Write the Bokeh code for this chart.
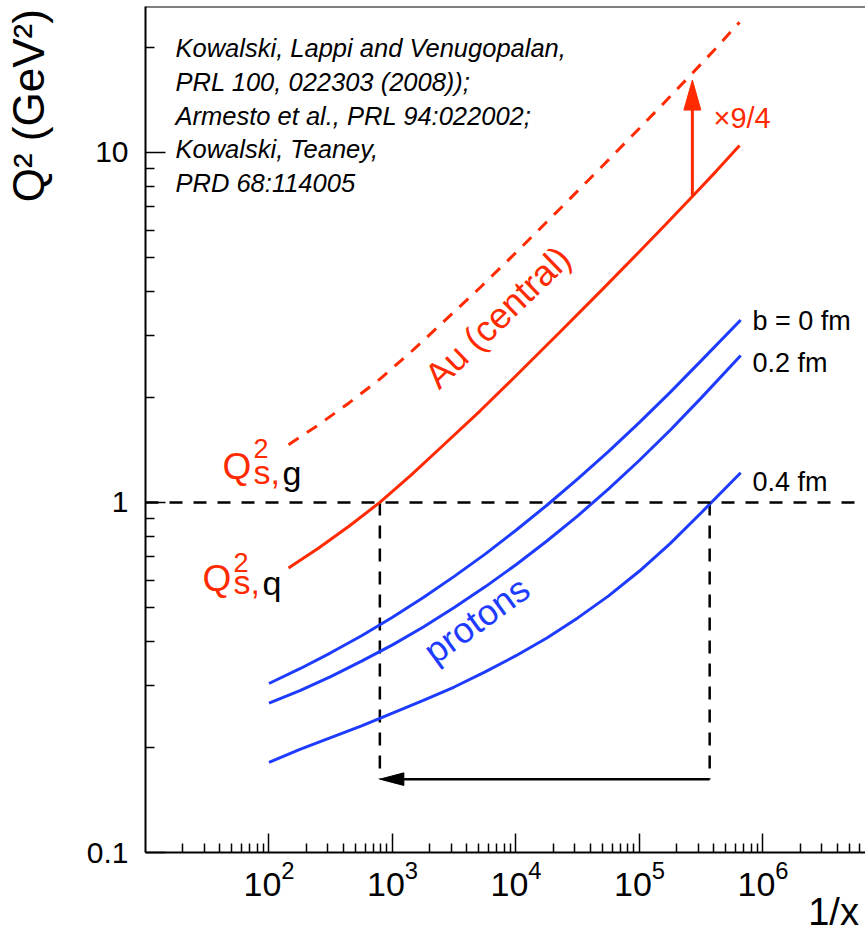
import math
from bokeh.plotting import figure
from bokeh.models import Range1d, FixedTicker, LogTickFormatter, Label, Span, LogAxis
from bokeh.embed import file_html
from bokeh.resources import INLINE

# ---------------- data ----------------
# Au (central), quark saturation scale Q_s,q^2 vs 1/x
au_x = [144, 251, 447, 794, 1413, 2512, 5129, 1.0e4, 2.24e4, 5.01e4, 1.0e5,
        1.585e5, 2.69e5, 4.17e5, 6.46e5]
au_q = [0.650, 0.740, 0.857, 1.002, 1.197, 1.445, 1.828, 2.301, 3.055, 4.064,
        5.212, 6.166, 7.499, 8.831, 10.47]
# Au (central), gluon saturation scale Q_s,g^2 (x 9/4), dashed
aug_q = [1.463, 1.665, 1.928, 2.255, 2.693, 3.251, 4.113, 5.177, 6.874, 9.144,
         11.73, 13.87, 16.87, 19.87, 23.56]
# protons (common 1/x grid)
p_x = [100, 178, 316, 562, 1000, 1778, 3162, 5623, 1.0e4, 1.778e4, 3.162e4,
       5.623e4, 1.0e5, 1.778e5, 3.162e5, 6.6e5]
p0_q = [0.304, 0.335, 0.372, 0.416, 0.470, 0.535, 0.615, 0.712, 0.833, 0.982,
        1.168, 1.400, 1.694, 2.067, 2.543, 3.32]      # b = 0 fm
p2_q = [0.267, 0.290, 0.318, 0.352, 0.392, 0.441, 0.501, 0.574, 0.664, 0.776,
        0.916, 1.093, 1.320, 1.611, 1.990, 2.63]      # b = 0.2 fm
p4_q = [0.181, 0.197, 0.213, 0.230, 0.250, 0.272, 0.297, 0.328, 0.365, 0.410,
        0.468, 0.541, 0.637, 0.764, 0.935, 1.216]     # b = 0.4 fm

# guide lines / arrows
ref_q2 = 1.0            # horizontal dashed line
cross_x = [790, 3.7e5]  # where Au and b=0.4 fm proton curves reach Q^2 = 1
arrow_q2 = 0.162        # level of the horizontal arrow
ratio_x = 2.68e5        # position of the x9/4 arrow
ratio_from = 7.52
ratio_to = 16.1

# axes
x_major = [1e2, 1e3, 1e4, 1e5, 1e6]
x_minor = [m * 10 ** e for e in range(1, 7) for m in range(2, 10)]
y_major = [0.1, 1, 10]
y_labels = ["0.1", "1", "10"]
y_minor = [m * 10.0 ** e for e in (-1, 0, 1) for m in range(2, 10)]
x_title, x_title_at = "1/x", 3.726e6
y_title, y_title_at = "Q\u00b2 (GeV\u00b2)", 13.6

X0, X1 = 10.0, 10 ** 6.83
Y0, Y1 = 0.1, 10 ** 1.417

RED = "#ff2a00"
BLUE = "#1e3cff"
FONT = "Liberation Sans"

W, H = 865, 946
BL, BR, BT, BB = 145, 0, 6, 94
FW, FH = W - BL - BR, H - BT - BB
dxd = (math.log10(X1) - math.log10(X0)) / FW   # decades per pixel
dyd = (math.log10(Y1) - math.log10(Y0)) / FH

p = figure(width=W, height=H, x_axis_type="log", y_axis_type="log",
           x_range=Range1d(X0, X1), y_range=Range1d(Y0, Y1),
           output_backend="svg", toolbar_location=None,
           min_border_left=BL, min_border_right=BR,
           min_border_top=BT, min_border_bottom=BB)
p.outline_line_color = None
p.xgrid.visible = False
p.ygrid.visible = False
p.background_fill_color = "white"
p.border_fill_color = "white"

for ax in (p.xaxis, p.yaxis):
    ax.axis_line_width = 2
    ax.axis_line_color = "black"
    ax.major_tick_out = 0
    ax.minor_tick_out = 0
    ax.major_tick_line_width = 1.5
    ax.minor_tick_line_width = 1.5
    ax.major_label_text_font = FONT
    ax.major_label_text_color = "black"

p.xaxis.ticker = FixedTicker(ticks=x_major, minor_ticks=x_minor)
p.xaxis.formatter = LogTickFormatter()
p.xaxis.major_tick_in = 19
p.xaxis.minor_tick_in = 9
p.xaxis.major_label_text_font_size = "34px"
p.xaxis.major_label_standoff = 8

p.yaxis.ticker = FixedTicker(ticks=y_major, minor_ticks=y_minor)
p.yaxis.major_label_overrides = {v: s for v, s in zip(y_major, y_labels)}
p.yaxis.major_tick_in = 20
p.yaxis.minor_tick_in = 9
p.yaxis.major_label_text_font_size = "30px"
p.yaxis.major_label_standoff = 17


def title_axis(at, text, size, standoff, orientation):
    ax = LogAxis(ticker=FixedTicker(ticks=[at], minor_ticks=[]),
                 major_label_overrides={at: text},
                 major_label_text_font=FONT,
                 major_label_text_font_size=f"{size}px",
                 major_label_text_color="black",
                 major_label_standoff=standoff,
                 major_label_orientation=orientation,
                 axis_line_color=None, major_tick_line_color=None,
                 minor_tick_line_color=None,
                 major_tick_in=0, major_tick_out=0,
                 minor_tick_in=0, minor_tick_out=0)
    return ax


p.add_layout(title_axis(x_title_at, x_title, 38, -8, "horizontal"), "below")
p.add_layout(title_axis(y_title_at, y_title, 44, 30, "vertical"), "left")

# top frame line
p.add_layout(Span(location=Y1, dimension="width", line_color="black", line_width=2))

# guide lines
p.add_layout(Span(location=ref_q2, dimension="width", line_color="black",
                  line_width=2.5, line_dash="13 11"))
p.segment(x0=cross_x, y0=[ref_q2, ref_q2], x1=cross_x, y1=[arrow_q2, arrow_q2],
          line_color="black", line_width=2.5, line_dash="13 10")

# curves
p.line(au_x, aug_q, line_color=RED, line_width=3, line_dash="12 10")
p.line(au_x, au_q, line_color=RED, line_width=3)
p.line(p_x, p0_q, line_color=BLUE, line_width=3)
p.line(p_x, p2_q, line_color=BLUE, line_width=3)
p.line(p_x, p4_q, line_color=BLUE, line_width=3)

# red x9/4 arrow (vertical)
hl, hw = 30, 8.5
head_base = ratio_to / 10 ** (hl * dyd)
p.segment(x0=[ratio_x], y0=[ratio_from], x1=[ratio_x], y1=[head_base],
          line_color=RED, line_width=3)
p.patch([ratio_x / 10 ** (hw * dxd), ratio_x, ratio_x * 10 ** (hw * dxd)],
        [head_base, ratio_to, head_base], fill_color=RED, line_color=RED, line_width=1)

# black horizontal arrow (pointing left)
bl, bw = 24, 6.3
tip_x, tail_x = cross_x[0], cross_x[1]
base_x = tip_x * 10 ** (bl * dxd)
p.segment(x0=[tail_x], y0=[arrow_q2], x1=[base_x], y1=[arrow_q2],
          line_color="black", line_width=2.5)
p.patch([base_x, tip_x, base_x],
        [arrow_q2 * 10 ** (bw * dyd), arrow_q2, arrow_q2 / 10 ** (bw * dyd)],
        fill_color="black", line_color="black", line_width=1)


def lab(x, y, text, size, color="black", align="left", baseline="alphabetic",
        angle=0.0, style="normal"):
    p.add_layout(Label(x=x, y=y, text=text, text_font=FONT, text_font_size=f"{size}px",
                       text_color=color, text_align=align, text_baseline=baseline,
                       angle=angle, text_font_style=style))


# citation block
cite = ["Kowalski, Lappi and Venugopalan,",
        "PRL 100, 022303 (2008));",
        "Armesto et al., PRL 94:022002;",
        "Kowalski, Teaney,",
        "PRD 68:114005"]
cite_y = [19.89, 15.90, 12.72, 10.23, 8.18]
for t, yy in zip(cite, cite_y):
    lab(17.5, yy, t, 25.5, style="italic")

lab(3.97e5, 12.55, "\u00d79/4", 29, RED)
lab(7080, 3.39, "Au (central)", 36, RED, align="center", baseline="middle",
    angle=math.radians(44))
lab(4790, 0.462, "protons", 36, BLUE, align="center", baseline="middle",
    angle=math.radians(36))
lab(8.22e5, 3.31, "b = 0 fm", 27)
lab(8.22e5, 2.50, "0.2 fm", 27)
lab(8.22e5, 1.147, "0.4 fm", 27)

# Q_s,g^2 label
lab(42.0, 1.263, "Q", 37, RED)
lab(74.8, 1.431, "2", 27, RED)
lab(74.8, 1.222, "s,", 34, RED)
lab(128.6, 1.214, "g", 34)
# Q_s,q^2 label
lab(28.9, 0.608, "Q", 37, RED)
lab(51.6, 0.672, "2", 27, RED)
lab(51.6, 0.593, "s,", 34, RED)
lab(88.5, 0.589, "q", 34)

open("out.html", "w").write(file_html(p, INLINE))
